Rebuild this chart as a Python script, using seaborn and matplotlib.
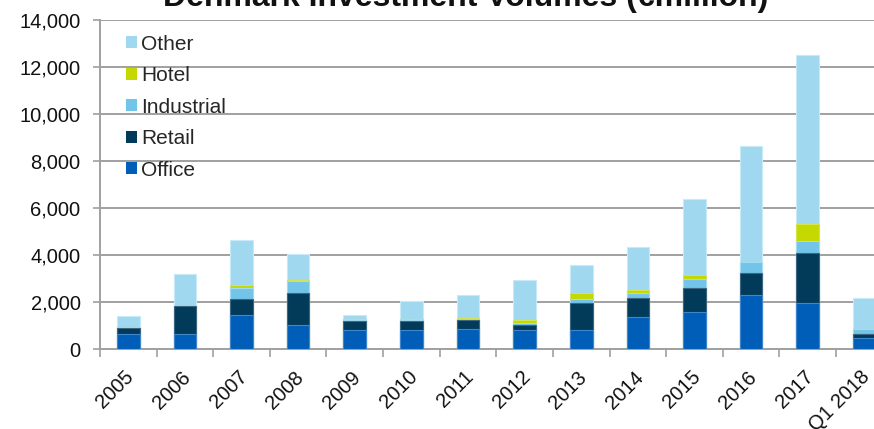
import matplotlib
matplotlib.use("Agg")
import matplotlib.pyplot as plt
from matplotlib.patches import Patch
from matplotlib.ticker import FuncFormatter, FixedLocator
from matplotlib.transforms import ScaledTranslation
import numpy as np
import pandas as pd
import seaborn as sns

years = ['2005', '2006', '2007', '2008', '2009', '2010', '2011', '2012',
         '2013', '2014', '2015', '2016', '2017', 'Q1 2018']
office = [640, 640, 1450, 1020, 810, 810, 870, 810, 810, 1380, 1580, 2320, 1980, 500]
retail = [255, 1210, 700, 1375, 410, 380, 370, 215, 1140, 810, 1010, 910, 2100, 170]
industrial = [30, 0, 470, 520, 30, 40, 40, 85, 170, 185, 400, 470, 540, 210]
hotel = [30, 0, 115, 45, 40, 50, 70, 155, 255, 130, 170, 30, 710, 0]
other = [465, 1370, 1930, 1090, 160, 790, 970, 1695, 1225, 1850, 3245, 4900, 7170, 1280]

series_names = ['Office', 'Retail', 'Industrial', 'Hotel', 'Other']
series_vals = [office, retail, industrial, hotel, other]
colors = {'Office': '#005EB8', 'Retail': '#023A5A', 'Industrial': '#72C4E8',
          'Hotel': '#C5D800', 'Other': '#A0D8F0'}
edges = {'Office': '#3F86CC', 'Retail': '#3D6680', 'Industrial': '#A6DBF1',
         'Hotel': '#D6E44D', 'Other': '#C8E9F7'}

sns.set_style("white")
plt.rcParams['font.family'] = ['Liberation Sans', 'DejaVu Sans']

df = pd.DataFrame({'year': years})
cum = np.zeros(len(years))
for name, vals in zip(series_names, series_vals):
    cum = cum + np.array(vals, dtype=float)
    df[name] = cum.copy()

fig = plt.figure(figsize=(8.74, 4.29), dpi=100)
ax = fig.add_axes([100 / 874, (429 - 349.3) / 429, 792.6 / 874, 329.3 / 429])

for name in reversed(series_names):
    sns.barplot(data=df, x='year', y=name, color=colors[name], width=0.4,
                edgecolor=edges[name], linewidth=0.8, saturation=1, ax=ax, zorder=3)

ax.set_xlim(-0.5, len(years) - 0.5)
ax.set_ylim(0, 14000)
ax.set_yticks(np.arange(0, 14001, 2000))
ax.yaxis.set_major_formatter(FuncFormatter(lambda v, p: f"{int(v):,}"))
ax.grid(axis='y', color='#A0A0A0', linewidth=1.4, zorder=0)
ax.set_axisbelow(True)
ax.set_xlabel('')
ax.set_ylabel('')

for s in ['top', 'right']:
    ax.spines[s].set_visible(False)
ax.spines['left'].set_color('#A0A0A0')
ax.spines['left'].set_linewidth(1.4)
ax.spines['bottom'].set_color('#A0A0A0')
ax.spines['bottom'].set_linewidth(1.4)

ax.tick_params(axis='y', which='major', left=True, length=5, width=1.2,
               color='#A0A0A0', labelsize=14.5, pad=9, labelcolor='#111111')
ax.set_xticks(range(len(years)))
ax.set_xticklabels(years, rotation=45, ha='right', rotation_mode='anchor')
ax.tick_params(axis='x', which='major', length=0, labelsize=14.5, pad=13,
               labelcolor='#111111')
shift = ScaledTranslation(-4 / 100, 0, fig.dpi_scale_trans)
for lbl in ax.get_xticklabels():
    lbl.set_transform(lbl.get_transform() + shift)
ax.xaxis.set_minor_locator(FixedLocator(np.arange(-0.5, len(years), 1.0)))
ax.tick_params(axis='x', which='minor', bottom=True, length=6, width=1.2,
               color='#A0A0A0')

handles = [Patch(facecolor=colors[n], edgecolor='none', label=n)
           for n in reversed(series_names)]
leg = ax.legend(handles=handles, loc='upper left', bbox_to_anchor=(0.022, 0.981),
                frameon=False, fontsize=15, handlelength=0.52, handleheight=0.52,
                handletextpad=0.2, labelspacing=0.6, borderaxespad=0)

fig.text(466 / 874, 1 - 6 / 429, 'Denmark Investment Volumes (€million)',
         ha='center', va='baseline', fontsize=23, fontweight='bold', color='#111111')

fig.savefig('out.png', dpi=100)
